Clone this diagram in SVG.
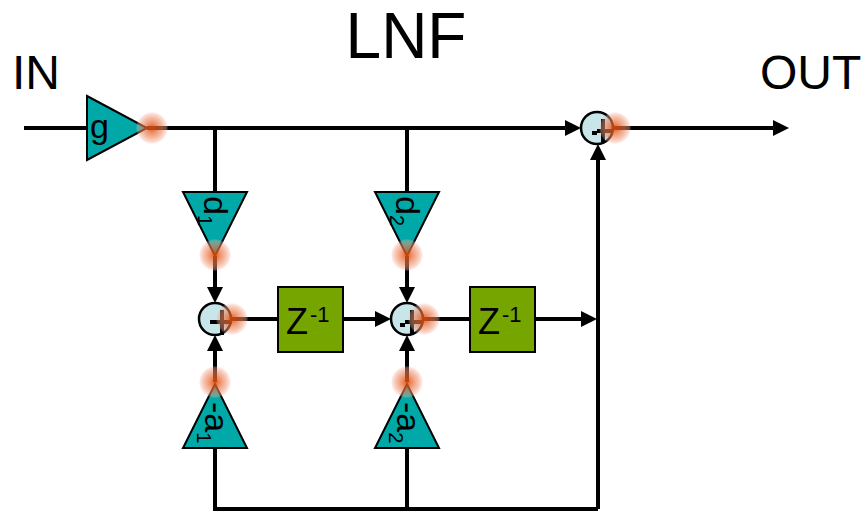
<svg xmlns="http://www.w3.org/2000/svg" width="861" height="511" viewBox="0 0 861 511">
<style>
text{font-family:"Liberation Sans",Arial,sans-serif;fill:#000}
.w{fill:none;stroke:#000;stroke-width:4}
.a{marker-end:url(#ah)}
.t{fill:#00a8a8;stroke:#000;stroke-width:2}
.b{fill:#76a500;stroke:#000;stroke-width:2}
.s{fill:#c8e6ea;stroke:#000;stroke-width:2.5}
.n{font-size:34px}
.z{font-size:36px}
.lab{font-size:48px}
.sub{font-size:20px}
.sg{stroke:#000;stroke-width:4;fill:none}
</style>
<defs>
<marker id="ah" markerUnits="userSpaceOnUse" markerWidth="17" markerHeight="18" refX="2" refY="9" orient="auto"><path d="M0 1L16 9L0 17Z" fill="#000"/></marker>
<radialGradient id="glow"><stop offset="0" stop-color="#e04a00" stop-opacity=".9"/><stop offset=".3" stop-color="#e8622a" stop-opacity=".72"/><stop offset=".7" stop-color="#f0906c" stop-opacity=".55"/><stop offset=".9" stop-color="#f4b09a" stop-opacity=".38"/><stop offset="1" stop-color="#f8c8b8" stop-opacity=".08"/></radialGradient>
</defs>
<g id="connectors">
<path class="w" d="M24 128H87"/>
<path class="w a" d="M147 128H567"/>
<path class="w a" d="M613 128H775"/>
<path class="w" d="M215 128V192M407 128V192"/>
<path class="w a" d="M215 256V289"/>
<path class="w a" d="M407 256V289"/>
<path class="w a" d="M215 382V349"/>
<path class="w a" d="M407 382V349"/>
<path class="w" d="M231 319H278"/>
<path class="w a" d="M343 319H377"/>
<path class="w" d="M423 319H470"/>
<path class="w a" d="M535 319H583"/>
<path class="w" d="M215 448V509H598M407 448V509"/>
<path class="w a" d="M598 509V158"/>
</g>
<text id="title" style="font-size:64px" x="406" y="58" text-anchor="middle">LNF</text>
<text id="in" class="lab" x="12" y="89">IN</text>
<text id="out" class="lab" x="760" y="89">OUT</text>
<g id="gain-g"><path class="t" d="M87 96L147 128L87 160Z"/><text class="n" x="90" y="138">g</text></g>
<g id="gain-d1"><path class="t" d="M183 192H247L215 256Z"/><text class="n" transform="translate(204 196) rotate(90)">d<tspan class="sub" dy="6">1</tspan></text></g>
<g id="gain-d2"><path class="t" d="M375 192H439L407 256Z"/><text class="n" transform="translate(396 196) rotate(90)">d<tspan class="sub" dy="6">2</tspan></text></g>
<g id="gain-a1"><path class="t" d="M183 448H247L215 384Z"/><text class="n" transform="translate(205 402) rotate(90)">-a<tspan class="sub" dy="8">1</tspan></text></g>
<g id="gain-a2"><path class="t" d="M375 448H439L407 384Z"/><text class="n" transform="translate(397 402) rotate(90)">-a<tspan class="sub" dy="8">2</tspan></text></g>
<g id="delay-1"><rect class="b" x="278" y="287" width="65" height="65"/><text class="z" x="286" y="334">Z<tspan font-size="22" dy="-12" dx="2">-1</tspan></text></g>
<g id="delay-2"><rect class="b" x="470" y="287" width="65" height="65"/><text class="z" x="478" y="334">Z<tspan font-size="22" dy="-12" dx="2">-1</tspan></text></g>
<g id="sum-1"><circle class="s" cx="215" cy="319" r="16"/><path class="sg" d="M210 322H232M222 310V335"/></g>
<g id="sum-2"><circle class="s" cx="407" cy="319" r="16"/><path class="sg" d="M400 325H405M405 322H423M412 310V335"/></g>
<g id="sum-3"><circle class="s" cx="597" cy="128" r="16"/><path class="sg" d="M592 133H597M597 131H613M603 119V142"/></g>
<g id="glows">
<circle cx="152" cy="128" r="16" fill="url(#glow)"/>
<circle cx="215" cy="255" r="16" fill="url(#glow)"/>
<circle cx="407" cy="255" r="16" fill="url(#glow)"/>
<circle cx="215" cy="382" r="16" fill="url(#glow)"/>
<circle cx="407" cy="382" r="16" fill="url(#glow)"/>
<circle cx="232" cy="319" r="16" fill="url(#glow)"/>
<circle cx="424" cy="319" r="16" fill="url(#glow)"/>
<circle cx="615" cy="128" r="16" fill="url(#glow)"/>
</g>
</svg>
